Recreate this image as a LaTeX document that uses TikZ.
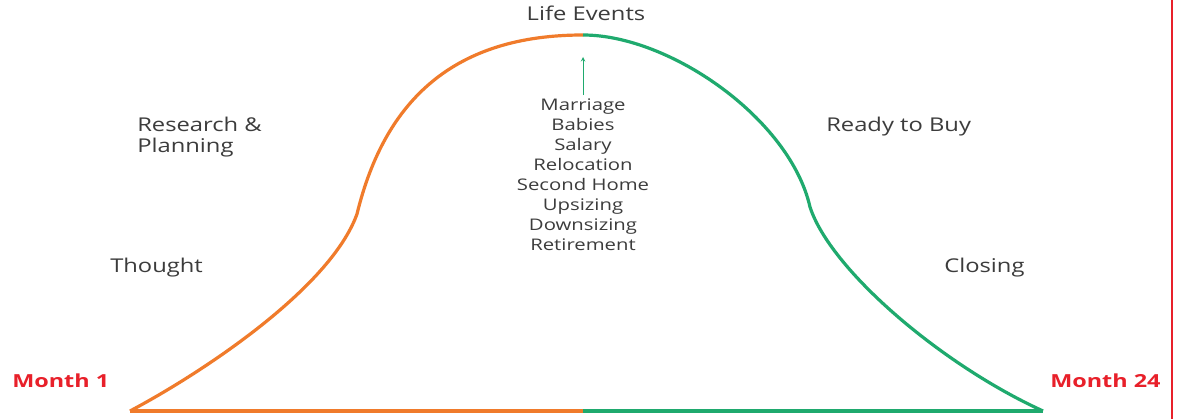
\documentclass[tikz,border=0pt]{standalone}
\usepackage{fontspec}
\setmainfont{Open Sans}
\definecolor{buyOrange}{HTML}{F07B2B}
\definecolor{buyGreen}{HTML}{1FAA6E}
\definecolor{buyText}{HTML}{3C3C3C}
\definecolor{buyRed}{HTML}{E8202A}
\begin{document}
\begin{tikzpicture}[
    x=1pt,y=1pt,
    phaseLabel/.style={font=\fontsize{19}{21}\selectfont,text=buyText,align=left,inner sep=0pt,xscale=1.25,transform shape},
    eventList/.style={font=\fontsize{16}{20}\selectfont,text=buyText,align=center,inner sep=0pt,xscale=1.27,transform shape},
    monthLabel/.style={font=\fontsize{18}{20}\selectfont\bfseries,text=buyRed,inner sep=0pt,xscale=1.3,transform shape},
    rise/.style={buyOrange,line width=3.2pt,line join=round},
    fall/.style={buyGreen,line width=3.2pt,line join=round},
    evArrow/.style={->,>=stealth,buyGreen,line width=1pt},
]
\useasboundingbox[fill=white] (0,0) rectangle (1177,419);
% === rising half (orange) ===
\draw[rise] (130,8) .. controls (200,45) and (330,130) .. (357,205)
    .. controls (385,320) and (455,384) .. (583,384);
\draw[rise] (130,8) -- (583,8);
% === falling half (green) ===
\draw[fall] (583,384) .. controls (670,384) and (790,300) .. (810,212)
    .. controls (830,150) and (940,55) .. (1043,8);
\draw[fall] (583,8) -- (1043,8);
% === labels ===
\node[phaseLabel,anchor=base] (LIFE) at (586,398) {Life Events};
\node[eventList,anchor=base] (EVTS) at (583,168) {Marriage\\Babies\\Salary\\Relocation\\Second Home\\Upsizing\\Downsizing\\Retirement};
\coordinate (PEAK) at (583,362);
\draw[evArrow] ([yshift=4pt]EVTS.north) -- (PEAK);
\node[phaseLabel,anchor=base west] (RESR) at (137,287) {Research \&};
\node[phaseLabel,anchor=base west] (PLAN) at (137,266) {Planning};
\node[phaseLabel,anchor=base west] (THGT) at (110,146) {Thought};
\node[phaseLabel,anchor=base west] (READ) at (826,287) {Ready to Buy};
\node[phaseLabel,anchor=base west] (CLOS) at (944,146) {Closing};
\node[monthLabel,anchor=base west] (MON1) at (12,31) {Month 1};
\node[monthLabel,anchor=base west] (MON24) at (1050,31) {Month 24};
% right border
\draw[buyRed,line width=1.5pt] (1172,0) -- (1172,419);
\end{tikzpicture}
\end{document}
